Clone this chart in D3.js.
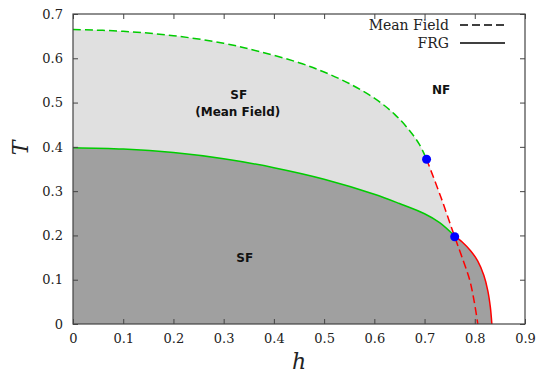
<!DOCTYPE html>
<html>
<head>
<meta charset="utf-8">
<script src="https://cdn.jsdelivr.net/npm/d3@7"></script>
<style>
html,body{margin:0;padding:0;background:#fff;}
svg{display:block;}
</style>
</head>
<body>
<svg id="chart" width="539" height="373"></svg>
<script>
// Mean-field boundary (green dashed part)
const mfH = [0, 0.1, 0.2, 0.3, 0.372, 0.45, 0.5, 0.55, 0.6, 0.64, 0.67, 0.69, 0.704];
const mfT = [0.665, 0.661, 0.651, 0.634, 0.615, 0.590, 0.569, 0.543, 0.510, 0.474, 0.437, 0.405, 0.372];
// Mean-field first-order line (red dashed part)
const mf1H = [0.704, 0.733, 0.760, 0.778, 0.790, 0.799, 0.806];
const mf1T = [0.372, 0.285, 0.197, 0.140, 0.099, 0.050, 0.0];
// FRG boundary (green solid part)
const frgH = [0, 0.1, 0.2, 0.3, 0.4, 0.5, 0.6, 0.65, 0.7, 0.73, 0.757];
const frgT = [0.398, 0.395, 0.387, 0.373, 0.353, 0.327, 0.293, 0.272, 0.249, 0.229, 0.202];
// FRG first-order line (red solid part)
const frg1H = [0.757, 0.775, 0.792, 0.806, 0.818, 0.826, 0.831, 0.834];
const frg1T = [0.202, 0.185, 0.165, 0.142, 0.110, 0.075, 0.038, 0.0];
// Special points
const dotH = [0.704, 0.760];
const dotT = [0.372, 0.197];
// Ticks
const xTicks = [0, 0.1, 0.2, 0.3, 0.4, 0.5, 0.6, 0.7, 0.8, 0.9];
const yTicks = [0, 0.1, 0.2, 0.3, 0.4, 0.5, 0.6, 0.7];
// Labels
const regionLabels = [
  {text: "SF", h: 0.33, T: 0.508},
  {text: "(Mean Field)", h: 0.328, T: 0.47},
  {text: "NF", h: 0.733, T: 0.52},
  {text: "SF", h: 0.342, T: 0.141}
];
const legendNames = ["Mean Field", "FRG"];

const zip = (a, b) => a.map((v, i) => [v, b[i]]);

const svg = d3.select("#chart");
const L = 73, R = 525, Tp = 14, B = 324;
const x = d3.scaleLinear().domain([0, 0.9]).range([L, R]);
const y = d3.scaleLinear().domain([0, 0.7]).range([B, Tp]);

const mfAll = zip(mfH, mfT).concat(zip(mf1H, mf1T).slice(1));
const frgAll = zip(frgH, frgT).concat(zip(frg1H, frg1T).slice(1));

const line = d3.line().x(d => x(d[0])).y(d => y(d[1])).curve(d3.curveCatmullRom.alpha(0.5));
const areaPath = pts => line(pts) + `L${x(pts[pts.length - 1][0])},${y(0)}L${x(pts[0][0])},${y(0)}Z`;

svg.append("path").attr("d", areaPath(mfAll)).attr("fill", "#e0e0e0");
svg.append("path").attr("d", areaPath(frgAll)).attr("fill", "#a0a0a0");

// curves
svg.append("path").datum(zip(mfH, mfT)).attr("d", line)
  .attr("fill", "none").attr("stroke", "#00cc00").attr("stroke-width", 1.5).attr("stroke-dasharray", "8,4");
svg.append("path").datum(zip(mf1H, mf1T)).attr("d", line)
  .attr("fill", "none").attr("stroke", "#ff0000").attr("stroke-width", 1.5).attr("stroke-dasharray", "8,4");
svg.append("path").datum(zip(frgH, frgT)).attr("d", line)
  .attr("fill", "none").attr("stroke", "#00cc00").attr("stroke-width", 1.5);
svg.append("path").datum(zip(frg1H, frg1T)).attr("d", line)
  .attr("fill", "none").attr("stroke", "#ff0000").attr("stroke-width", 1.5);

// dots
svg.selectAll("circle.dot").data(zip(dotH, dotT)).enter().append("circle")
  .attr("cx", d => x(d[0])).attr("cy", d => y(d[1])).attr("r", 4.5).attr("fill", "#0000ff");

// axes
const axCol = "#444";
const tickFont = "13px 'DejaVu Serif'";
const gB = svg.append("g").attr("transform", `translate(0,${B})`)
  .call(d3.axisBottom(x).tickValues(xTicks).tickSize(-5).tickPadding(10).tickFormat(d => d === 0 ? "0" : d3.format(".1f")(d)));
const gT = svg.append("g").attr("transform", `translate(0,${Tp})`)
  .call(d3.axisTop(x).tickValues(xTicks).tickSize(-5).tickFormat(""));
const gL = svg.append("g").attr("transform", `translate(${L},0)`)
  .call(d3.axisLeft(y).tickValues(yTicks).tickSize(-5).tickPadding(10).tickFormat(d => d === 0 ? "0" : d3.format(".1f")(d)));
const gR = svg.append("g").attr("transform", `translate(${R},0)`)
  .call(d3.axisRight(y).tickValues(yTicks).tickSize(-5).tickFormat(""));
[gB, gT, gL, gR].forEach(g => {
  g.select(".domain").remove();
  g.selectAll(".tick line").attr("stroke", axCol);
  g.selectAll("text").style("font", tickFont).attr("fill", "#222");
});
svg.append("rect").attr("x", L).attr("y", Tp).attr("width", R - L).attr("height", B - Tp)
  .attr("fill", "none").attr("stroke", axCol).attr("stroke-width", 1.2);

// axis titles
svg.append("text").attr("x", 299).attr("y", 369).attr("text-anchor", "middle")
  .style("font", "italic 22px 'DejaVu Serif'").attr("fill", "#222").text("h");
svg.append("text").attr("transform", "translate(28,148) rotate(-90)").attr("text-anchor", "middle")
  .style("font", "italic 22px 'DejaVu Serif'").attr("fill", "#222").text("T");

// region labels
svg.selectAll("text.reg").data(regionLabels).enter().append("text")
  .attr("x", d => x(d.h)).attr("y", d => y(d.T)).attr("text-anchor", "middle")
  .style("font", "bold 12px 'DejaVu Sans'").attr("fill", "#111").text(d => d.text);

// legend
const legY = [25, 43];
legendNames.forEach((n, i) => {
  svg.append("text").attr("x", 449).attr("y", legY[i] + 5).attr("text-anchor", "end")
    .style("font", "14px 'DejaVu Serif'").attr("fill", "#222").text(n);
  svg.append("line").attr("x1", 460).attr("x2", 505).attr("y1", legY[i]).attr("y2", legY[i])
    .attr("stroke", "#000").attr("stroke-width", 1.5).attr("stroke-dasharray", i === 0 ? "8,4" : null);
});
</script>
</body>
</html>
